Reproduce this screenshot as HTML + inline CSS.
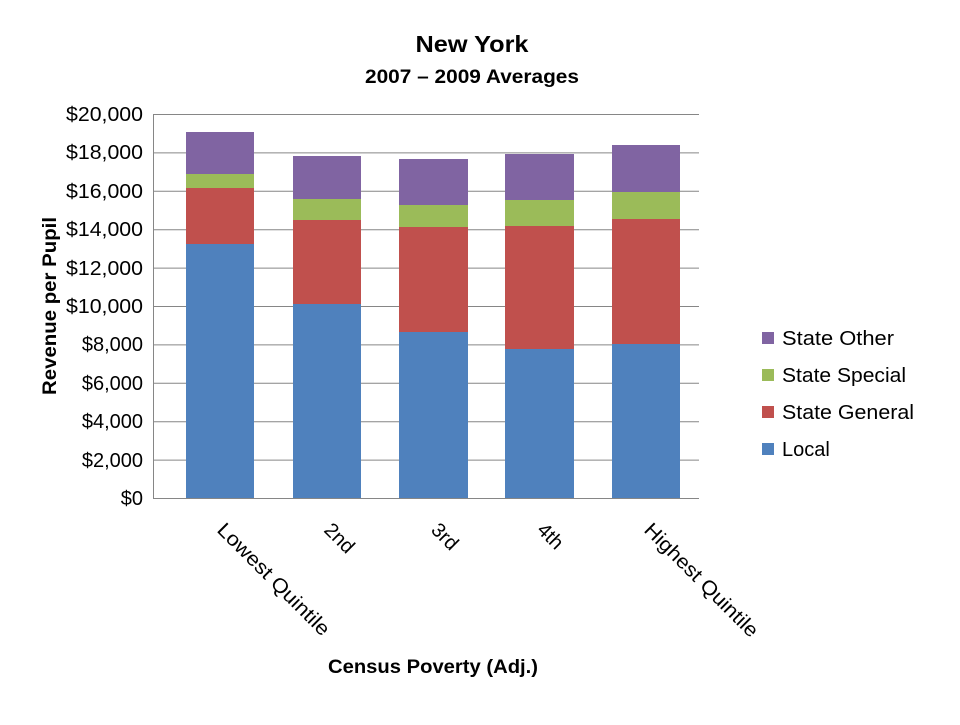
<!DOCTYPE html>
<html><head><meta charset="utf-8"><style>body{margin:0;background:#fff}</style></head><body>
<svg width="960" height="720" xmlns="http://www.w3.org/2000/svg" font-family="Liberation Sans, sans-serif">
<rect width="960" height="720" fill="#fff"/>
<text x="472" y="52" font-size="23" font-weight="bold" text-anchor="middle" textLength="113" lengthAdjust="spacingAndGlyphs">New York</text>
<text x="472" y="83" font-size="19" font-weight="bold" text-anchor="middle" textLength="214" lengthAdjust="spacingAndGlyphs">2007 – 2009 Averages</text>
<g stroke="#868686" stroke-width="1">
<line x1="153" y1="114.5" x2="699" y2="114.5"/><line x1="153" y1="152.9" x2="699" y2="152.9"/>
<line x1="153" y1="191.3" x2="699" y2="191.3"/><line x1="153" y1="229.7" x2="699" y2="229.7"/>
<line x1="153" y1="268.1" x2="699" y2="268.1"/><line x1="153" y1="306.5" x2="699" y2="306.5"/>
<line x1="153" y1="344.9" x2="699" y2="344.9"/><line x1="153" y1="383.3" x2="699" y2="383.3"/>
<line x1="153" y1="421.7" x2="699" y2="421.7"/><line x1="153" y1="460.1" x2="699" y2="460.1"/>
<line x1="153" y1="498.5" x2="699" y2="498.5"/><line x1="153.5" y1="114" x2="153.5" y2="499"/>
</g>
<g font-size="20" text-anchor="end">
<text x="143" y="121" textLength="77" lengthAdjust="spacingAndGlyphs">$20,000</text><text x="143" y="159" textLength="77" lengthAdjust="spacingAndGlyphs">$18,000</text><text x="143" y="198" textLength="77" lengthAdjust="spacingAndGlyphs">$16,000</text>
<text x="143" y="236" textLength="77" lengthAdjust="spacingAndGlyphs">$14,000</text><text x="143" y="275" textLength="77" lengthAdjust="spacingAndGlyphs">$12,000</text><text x="143" y="313" textLength="77" lengthAdjust="spacingAndGlyphs">$10,000</text>
<text x="143" y="351">$8,000</text><text x="143" y="390">$6,000</text><text x="143" y="428">$4,000</text>
<text x="143" y="467">$2,000</text><text x="143" y="505">$0</text>
</g>
<g>
<rect x="186" y="244" width="68" height="254" fill="#4f81bd"/><rect x="186" y="188" width="68" height="56" fill="#c0504d"/><rect x="186" y="174" width="68" height="14" fill="#9bbb59"/><rect x="186" y="132" width="68" height="42" fill="#8064a2"/>
<rect x="293" y="304" width="68" height="194" fill="#4f81bd"/><rect x="293" y="220" width="68" height="84" fill="#c0504d"/><rect x="293" y="199" width="68" height="21" fill="#9bbb59"/><rect x="293" y="156" width="68" height="43" fill="#8064a2"/>
<rect x="399" y="332" width="69" height="166" fill="#4f81bd"/><rect x="399" y="227" width="69" height="105" fill="#c0504d"/><rect x="399" y="205" width="69" height="22" fill="#9bbb59"/><rect x="399" y="159" width="69" height="46" fill="#8064a2"/>
<rect x="505" y="349" width="69" height="149" fill="#4f81bd"/><rect x="505" y="226" width="69" height="123" fill="#c0504d"/><rect x="505" y="200" width="69" height="26" fill="#9bbb59"/><rect x="505" y="154" width="69" height="46" fill="#8064a2"/>
<rect x="612" y="344" width="68" height="154" fill="#4f81bd"/><rect x="612" y="219" width="68" height="125" fill="#c0504d"/><rect x="612" y="192" width="68" height="27" fill="#9bbb59"/><rect x="612" y="145" width="68" height="47" fill="#8064a2"/>
</g>
<g font-size="20">
<text transform="translate(216,531) rotate(45)" textLength="150" lengthAdjust="spacingAndGlyphs">Lowest Quintile</text>
<text transform="translate(323,531) rotate(45)">2nd</text>
<text transform="translate(430,531) rotate(45)">3rd</text>
<text transform="translate(536,531) rotate(45)">4th</text>
<text transform="translate(643,531) rotate(45)" textLength="152" lengthAdjust="spacingAndGlyphs">Highest Quintile</text>
</g>
<text x="433" y="673" font-size="19" font-weight="bold" text-anchor="middle" textLength="210" lengthAdjust="spacingAndGlyphs">Census Poverty (Adj.)</text>
<text transform="translate(56,306) rotate(-90)" font-size="19" font-weight="bold" text-anchor="middle" textLength="178" lengthAdjust="spacingAndGlyphs">Revenue per Pupil</text>
<g font-size="20">
<rect x="762" y="332" width="12" height="12" fill="#8064a2"/><text x="782" y="345" textLength="112" lengthAdjust="spacingAndGlyphs">State Other</text>
<rect x="762" y="369" width="12" height="12" fill="#9bbb59"/><text x="782" y="382" textLength="124" lengthAdjust="spacingAndGlyphs">State Special</text>
<rect x="762" y="406" width="12" height="12" fill="#c0504d"/><text x="782" y="419" textLength="132" lengthAdjust="spacingAndGlyphs">State General</text>
<rect x="762" y="443" width="12" height="12" fill="#4f81bd"/><text x="782" y="456">Local</text>
</g>
</svg>
</body></html>
